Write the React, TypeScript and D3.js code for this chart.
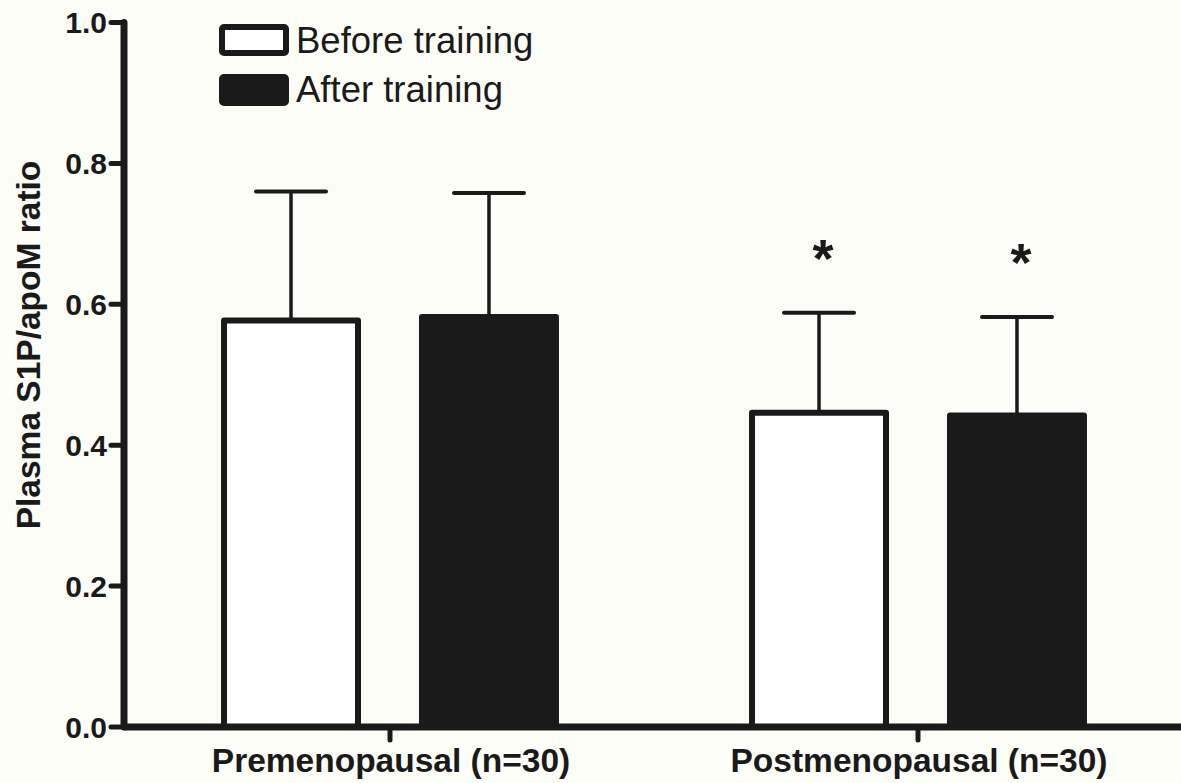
import React from "react";
import * as d3 from "d3";

const groups = ["Premenopausal (n=30)", "Postmenopausal (n=30)"];
const series = ["Before training", "After training"];
const means = [
  [0.577, 0.582],
  [0.446, 0.442],
];
const sds = [
  [0.183, 0.176],
  [0.142, 0.14],
];
const significant = [
  [false, false],
  [true, true],
];
const yTicks = [0, 0.2, 0.4, 0.6, 0.8, 1.0];

const W = 1181;
const H = 783;
const BG = "#fdfdf8";
const INK = "#1a1a1a";
const FONT = "'Liberation Sans', Arial, Helvetica, sans-serif";

export default function App() {
  const y = d3.scaleLinear().domain([0, 1]).range([727, 22.5]);
  const axisX = 124;
  const x0 = d3.scaleBand<string>().domain(groups).range([126, 1182]).padding(0);
  const x1 = d3
    .scaleBand<string>()
    .domain(series)
    .range([0, x0.bandwidth()])
    .paddingInner(0.2929)
    .paddingOuter(0.48);
  const sw = 6;
  const capW = 70;

  return (
    <svg
      width={W}
      height={H}
      style={{ position: "absolute", left: 0, top: 0, background: BG }}
      fontFamily={FONT}
    >
      <rect x={0} y={0} width={W} height={H} fill={BG} />
      {groups.map((g, gi) => (
        <g key={g}>
          {series.map((s, si) => {
            const bx = (x0(g) as number) + (x1(s) as number);
            const bw = x1.bandwidth();
            const m = means[gi][si];
            const top = y(m);
            const errTop = y(m + sds[gi][si]);
            const cx = bx + bw / 2;
            return (
              <g key={s}>
                <line x1={cx} x2={cx} y1={top} y2={errTop} stroke={INK} strokeWidth={3.5} />
                <line
                  x1={cx - capW / 2}
                  x2={cx + capW / 2}
                  y1={errTop}
                  y2={errTop}
                  stroke={INK}
                  strokeWidth={4}
                  strokeLinecap="round"
                />
                <rect
                  x={bx + sw / 2}
                  y={top}
                  width={bw - sw}
                  height={y(0) - top}
                  fill={si === 0 ? "#ffffff" : INK}
                  stroke={INK}
                  strokeWidth={sw}
                  strokeLinejoin="round"
                />
                {significant[gi][si] && (
                  <text
                    x={cx + 4}
                    y={errTop - 36}
                    textAnchor="middle"
                    fontSize={54}
                    fontWeight="bold"
                    fill={INK}
                  >
                    *
                  </text>
                )}
              </g>
            );
          })}
        </g>
      ))}
      <line x1={axisX} x2={axisX} y1={y(1)} y2={y(0)} stroke={INK} strokeWidth={7} strokeLinecap="round" />
      {yTicks.map((t) => (
        <g key={t}>
          <line x1={axisX - 13} x2={axisX} y1={y(t)} y2={y(t)} stroke={INK} strokeWidth={5} strokeLinecap="round" />
          <text
            x={axisX - 17}
            y={y(t)}
            dy="0.36em"
            textAnchor="end"
            fontSize={30}
            fontWeight="bold"
            fill={INK}
          >
            {t.toFixed(1)}
          </text>
        </g>
      ))}
      <line x1={axisX} x2={W} y1={y(0)} y2={y(0)} stroke={INK} strokeWidth={7} />
      {groups.map((g) => {
        const cx = (x0(g) as number) + x0.bandwidth() / 2;
        return (
          <g key={g}>
            <line x1={cx} x2={cx} y1={y(0)} y2={y(0) + 13} stroke={INK} strokeWidth={5} strokeLinecap="round" />
            <text x={cx + 1} y={772} textAnchor="middle" fontSize={33.5} fontWeight="bold" fill={INK}>
              {g}
            </text>
          </g>
        );
      })}
      <text
        transform={`translate(40,345) rotate(-90)`}
        textAnchor="middle"
        fontSize={33.5}
        fontWeight="bold"
        fill={INK}
      >
        Plasma S1P/apoM ratio
      </text>
      {series.map((s, si) => (
        <g key={s}>
          <rect
            x={222}
            y={27 + si * 50}
            width={64}
            height={26}
            rx={2}
            fill={si === 0 ? "#ffffff" : INK}
            stroke={INK}
            strokeWidth={sw}
            strokeLinejoin="round"
          />
          <text x={296} y={53 + si * 49} fontSize={36.5} fill={INK}>
            {s}
          </text>
        </g>
      ))}
    </svg>
  );
}
